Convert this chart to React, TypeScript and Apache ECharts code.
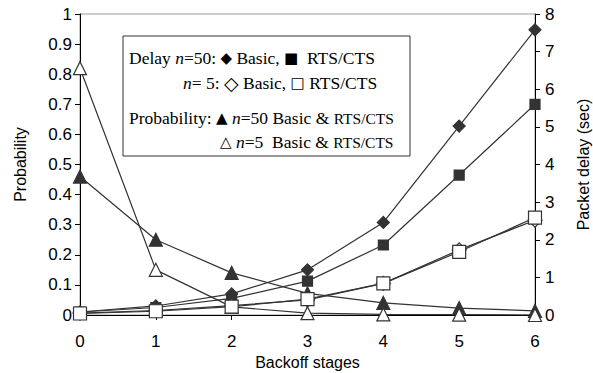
import React, { useEffect, useRef } from "react";
import * as echarts from "echarts";

const stages = [0, 1, 2, 3, 4, 5, 6];
const probN50 = [0.46, 0.25, 0.14, 0.072, 0.04, 0.023, 0.014];
const probN5 = [0.82, 0.15, 0.027, 0.006, 0.002, 0.001, 0.0];
const delayN50Basic = [0.08, 0.24, 0.56, 1.2, 2.46, 5.02, 7.58];
const delayN50Rts = [0.08, 0.2, 0.44, 0.9, 1.86, 3.72, 5.6];
const delayN5Basic = [0.05, 0.12, 0.25, 0.4, 0.84, 1.73, 2.52];
const delayN5Rts = [0.04, 0.1, 0.22, 0.42, 0.84, 1.68, 2.59];
const leftTicks = { min: 0, max: 1, interval: 0.1 };
const rightTicks = { min: 0, max: 8, interval: 1 };

const dark = "#333";

function pairs(vals: number[]) {
  return stages.map((s, i) => [s, vals[i]]);
}

export default function App() {
  const ref = useRef<HTMLDivElement>(null);
  useEffect(() => {
    const chart = echarts.init(ref.current!, null, { renderer: "svg" });
    const serif = "'Liberation Serif', 'Times New Roman', serif";
    const sans = "'Liberation Sans', Arial, sans-serif";
    const sym = "'DejaVu Sans', sans-serif";
    const rich = {
      t: { fontFamily: serif, fontSize: 17.5, color: "#000" },
      i: { fontFamily: serif, fontSize: 17.5, fontStyle: "italic", color: "#000" },
      s: { fontFamily: sym, fontSize: 15, color: "#000" },
      d: { fontFamily: sym, fontSize: 19, color: "#000" },
      m: { fontFamily: serif, fontSize: 15.5, color: "#000" },
    };
    const mk = (name: string, vals: number[], yAxisIndex: number, symbol: string, size: number, filled: boolean) => ({
      name,
      type: "line",
      yAxisIndex,
      data: pairs(vals),
      symbol,
      symbolSize: size,
      showAllSymbol: true,
      lineStyle: { color: dark, width: 1.2 },
      itemStyle: { color: filled ? dark : "#fff", borderColor: dark, borderWidth: 1.2 },
      z: filled ? 3 : 4,
    });
    const tickLabel = { fontFamily: sans, fontSize: 17, color: "#000" };
    const nameStyle = { fontFamily: sans, fontSize: 16, color: "#000" };
    chart.setOption({
      animation: false,
      grid: {
        left: 80,
        right: 58,
        top: 14,
        bottom: 58,
        show: true,
        borderColor: "#999",
        borderWidth: 1,
        outerBoundsMode: "none",
        containLabel: false,
      },
      xAxis: {
        type: "value",
        min: 0,
        max: 6,
        interval: 1,
        name: "Backoff stages",
        nameLocation: "middle",
        nameGap: 38,
        nameTextStyle: nameStyle,
        axisLine: { lineStyle: { color: "#000", width: 1 } },
        axisTick: { length: 5, lineStyle: { color: "#000" } },
        axisLabel: { ...tickLabel, margin: 18 },
        splitLine: { show: false },
      },
      yAxis: [
        {
          type: "value",
          ...leftTicks,
          name: "Probability",
          nameLocation: "middle",
          nameGap: 52,
          nameTextStyle: nameStyle,
          axisLine: { show: true, lineStyle: { color: "#000", width: 1 } },
          axisTick: { show: true, length: 5, lineStyle: { color: "#000" } },
          axisLabel: { ...tickLabel, margin: 8 },
          splitLine: { show: false },
        },
        {
          type: "value",
          ...rightTicks,
          position: "right",
          name: "Packet delay (sec)",
          nameLocation: "middle",
          nameGap: 40,
          nameRotate: 90,
          nameTextStyle: nameStyle,
          axisLine: { show: true, lineStyle: { color: "#000", width: 1 } },
          axisTick: { show: true, length: 5, lineStyle: { color: "#000" } },
          axisLabel: { ...tickLabel, margin: 10 },
          splitLine: { show: false },
        },
      ],
      series: [
        mk("Probability n=50", probN50, 0, "triangle", 13, true),
        mk("Probability n=5", probN5, 0, "triangle", 13, false),
        mk("Delay n=50 Basic", delayN50Basic, 1, "diamond", 12, true),
        mk("Delay n=50 RTS/CTS", delayN50Rts, 1, "rect", 10, true),
        mk("Delay n=5 Basic", delayN5Basic, 1, "diamond", 14, false),
        mk("Delay n=5 RTS/CTS", delayN5Rts, 1, "rect", 13, false),
      ],
      graphic: [
        {
          type: "rect",
          shape: { x: 123, y: 36, width: 287, height: 120 },
          style: { fill: "#fff", stroke: "#333", lineWidth: 1 },
          z: 10,
        },
        {
          type: "text",
          x: 129,
          y: 58,
          z: 11,
          style: {
            text: "{t|Delay }{i|n}{t|=50: }{s|◆}{t| Basic, }{s|■}{t|  RTS/CTS}",
            rich,
            verticalAlign: "middle",
          },
        },
        {
          type: "text",
          x: 183,
          y: 83,
          z: 11,
          style: {
            text: "{i|n}{t|= 5: }{d|◇}{t| Basic, }{s|□}{t| RTS/CTS}",
            rich,
            verticalAlign: "middle",
          },
        },
        {
          type: "text",
          x: 129,
          y: 118,
          z: 11,
          style: {
            text: "{t|Probability: }{s|▲}{t| }{i|n}{t|=50 Basic & }{m|RTS/CTS}",
            rich,
            verticalAlign: "middle",
          },
        },
        {
          type: "text",
          x: 220,
          y: 142,
          z: 11,
          style: {
            text: "{s|△}{t| }{i|n}{t|=5  Basic & }{m|RTS/CTS}",
            rich,
            verticalAlign: "middle",
          },
        },
      ],
    });
    return () => chart.dispose();
  }, []);
  return <div ref={ref} style={{ width: 593, height: 373, position: "absolute", left: 0, top: 0 }} />;
}
